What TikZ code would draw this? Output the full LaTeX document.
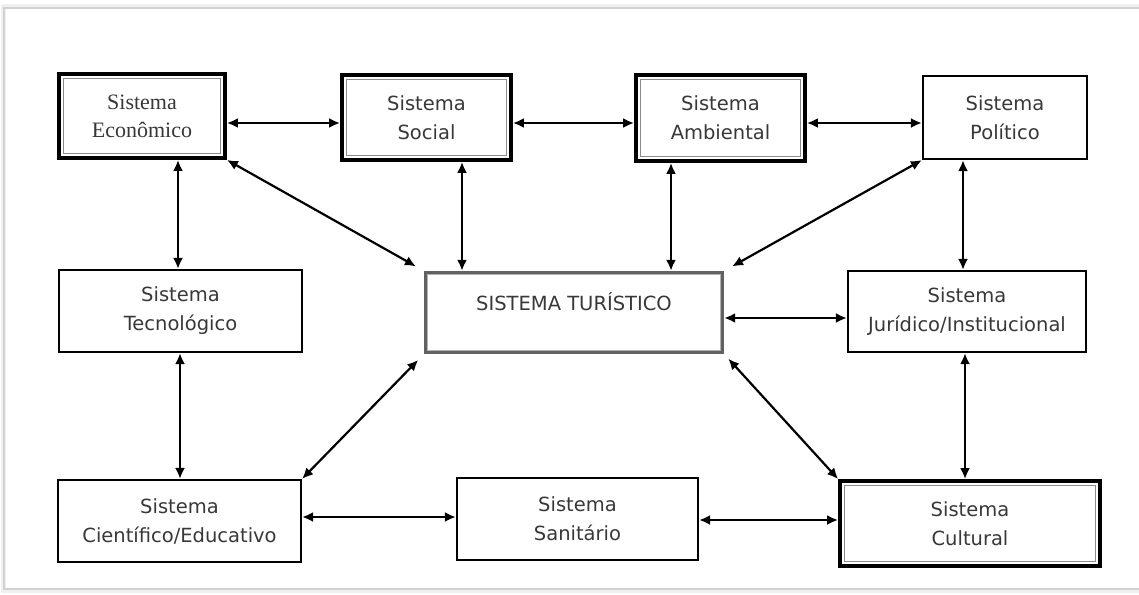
\documentclass[tikz,border=0pt]{standalone}
\usepackage{fontspec}
\setmainfont{DejaVu Sans}
\newfontfamily\ecofont{Liberation Serif}
\usetikzlibrary{arrows.meta}
\begin{document}
\begin{tikzpicture}[x=1pt,y=-1pt,
  txt/.style={text=black!78, font=\fontsize{19.5}{29}\selectfont, align=center},
  plainbox/.style={txt, draw=black, line width=2.2pt, inner sep=0pt},
  graybox/.style={draw=black!62, line width=3.4pt, inner sep=0pt,
    path picture={\draw[black!30, line width=0.8pt]
      ([shift={(2.2pt,-2.2pt)}]path picture bounding box.north west) rectangle
      ([shift={(-2.2pt,2.2pt)}]path picture bounding box.south east);}},
  dblbox/.style={txt, draw=black, line width=3.8pt, inner sep=0pt,
    path picture={\draw[black!45, line width=1.5pt]
      ([shift={(4.6pt,-4.6pt)}]path picture bounding box.north west) rectangle
      ([shift={(-4.6pt,4.6pt)}]path picture bounding box.south east);}},
  arr/.style={line width=2.2pt, {Latex[length=11pt,width=10pt]}-{Latex[length=11pt,width=10pt]}},
]
\clip (0,0) rectangle (1139,594);
\fill[white] (0,0) rectangle (1139,594);
\draw[black!6, line width=5pt] (3,7) rectangle (1170,590);
\draw[black!18, line width=1.5pt] (4,8) rectangle (1170,589);

\node[dblbox, font=\ecofont\fontsize{22}{28}\selectfont, minimum width=166pt, minimum height=84pt] (eco) at (142,116) {Sistema\\Econômico};
\node[dblbox, minimum width=169pt, minimum height=85pt] (soc) at (426.5,117.5) {Sistema\\Social};
\node[dblbox, minimum width=169pt, minimum height=86pt] (amb) at (720.5,118) {Sistema\\Ambiental};
\node[plainbox, minimum width=164pt, minimum height=83pt] (pol) at (1005,117.5) {Sistema\\Político};
\node[plainbox, minimum width=243pt, minimum height=82pt] (tec) at (180.5,311) {Sistema\\Tecnológico};
\node[graybox, minimum width=297pt, minimum height=80pt] (tur) at (574,312.5) {};
\node[txt, anchor=base] (turt) at ([yshift=2.5pt]tur.center) {SISTEMA TURÍSTICO};
\node[plainbox, minimum width=238pt, minimum height=81pt] (jur) at (967,311.5) {Sistema\\Jurídico/Institucional};
\node[plainbox, minimum width=243pt, minimum height=82pt] (cie) at (179.5,521) {Sistema\\Científico/Educativo};
\node[plainbox, minimum width=241pt, minimum height=82pt] (san) at (577.5,519) {Sistema\\Sanitário};
\node[dblbox, minimum width=260pt, minimum height=85pt] (cul) at (970,523.5) {Sistema\\Cultural};

\draw[arr] (eco.east |- 0,123) -- (soc.west |- 0,123);
\draw[arr] (soc.east |- 0,123) -- (amb.west |- 0,123);
\draw[arr] (amb.east |- 0,123) -- (pol.west |- 0,123);
\draw[arr] (eco.south -| 178,0) -- (tec.north -| 178,0);
\draw[arr] (soc.south -| 462,0) -- (tur.north -| 462,0);
\draw[arr] (amb.south -| 671,0) -- (tur.north -| 671,0);
\draw[arr] (pol.south -| 963,0) -- (jur.north -| 963,0);
\draw[arr, shorten >=9pt] (eco.south east) -- (tur.north west);
\draw[arr, shorten >=9pt] (pol.south west) -- (tur.north east);
\draw[arr] (tur.east |- 0,318) -- (jur.west |- 0,318);
\draw[arr] (tec.south -| 180,0) -- (cie.north -| 180,0);
\draw[arr] (jur.south -| 965,0) -- (cul.north -| 965,0);
\draw[arr, shorten <=8pt] (tur.south west) -- (cie.north east);
\draw[arr, shorten <=6pt] (tur.south east) -- (cul.north west);
\draw[arr] (cie.east |- 0,517) -- (san.west |- 0,517);
\draw[arr] (san.east |- 0,520) -- (cul.west |- 0,520);
\end{tikzpicture}
\end{document}
